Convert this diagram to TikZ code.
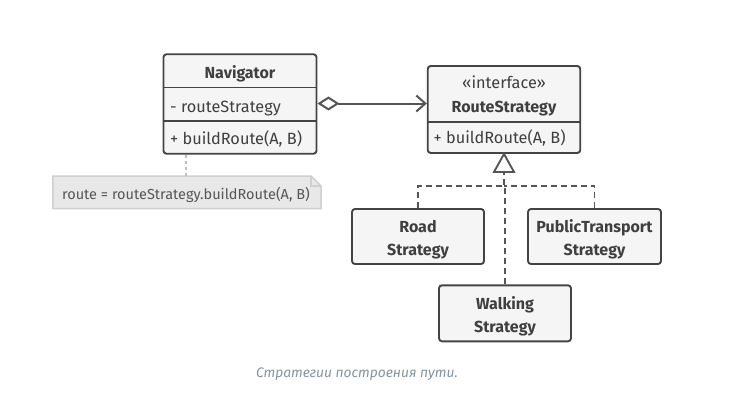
\documentclass[tikz,border=0pt]{standalone}
\usepackage{fontspec}
\setmainfont{Fira Sans}
\usetikzlibrary{arrows.meta,calc}
\definecolor{boxline}{HTML}{444444}
\definecolor{boxfill}{HTML}{F5F5F5}
\definecolor{txt}{HTML}{3F3F3F}
\definecolor{notefill}{HTML}{E8E8E8}
\definecolor{noteline}{HTML}{CFCFCF}
\definecolor{notetxt}{HTML}{555555}
\definecolor{captxt}{HTML}{8594A2}
\definecolor{linkcol}{HTML}{555555}
\tikzset{
  x=1pt,y=-1pt,
  umlbox/.style={draw=boxline,fill=boxfill,line width=1.9pt,rounded corners=3pt,inner sep=0pt},
  lbl/.style={text=txt,font=\fontsize{16.3}{18}\selectfont,inner sep=0pt},
  blbl/.style={lbl,font=\fontsize{16}{22.5}\selectfont\bfseries,align=center},
  divider/.style={draw=boxline,line width=1.9pt},
  agg/.style={draw=linkcol,line width=2pt,{Diamond[open,length=22pt,width=14pt,line width=2pt]}-{Straight Barb[length=9pt,width=16pt,line width=2pt]}},
  realize/.style={draw=linkcol,line width=1.9pt,dash pattern=on 6pt off 4pt},
  notestyle/.style={draw=noteline,line width=1.5pt},
  notelink/.style={draw=noteline!80!gray,line width=1.8pt,dash pattern=on 3pt off 3pt},
  notelbl/.style={text=notetxt,font=\fontsize{14.5}{17}\selectfont,inner sep=0pt},
}
\begin{document}
\begin{tikzpicture}
\useasboundingbox[fill=white] (0,0) rectangle (734,416);
% Navigator
\node[umlbox,minimum width=153pt,minimum height=99.5pt] (nav) at (240,104) {};
\draw[divider] (nav.west |- 0,87.5) -- (nav.east |- 0,87.5);
\draw[divider] (nav.west |- 0,120.7) -- (nav.east |- 0,120.7);
\node[blbl,anchor=base] (navname) at (240,78.3) {Navigator};
\node[lbl,anchor=base west] (navattr) at (170,112.7) {- routeStrategy};
\node[lbl,anchor=base west] (navop) at (170,144) {+ buildRoute(A, B)};
% RouteStrategy
\node[umlbox,minimum width=152.5pt,minimum height=87pt] (rs) at (504,109.5) {};
\draw[divider] (rs.west |- 0,121.7) -- (rs.east |- 0,121.7);
\node[lbl,anchor=base] (rsster) at (504,88.7) {«interface»};
\node[blbl,anchor=base] (rsname) at (504,112) {RouteStrategy};
\node[lbl,anchor=base west] (rsop) at (433.5,143.7) {+ buildRoute(A, B)};
% Concrete strategies
\node[umlbox,minimum width=132pt,minimum height=55pt] (road) at (418,236.5) {};
\node[blbl] (roadlbl) at ($(road.center)+(0,3)$) {Road\\Strategy};
\node[umlbox,minimum width=133pt,minimum height=55pt] (pt) at (594.5,236.5) {};
\node[blbl] (ptlbl) at ($(pt.center)+(0,3)$) {PublicTransport\\Strategy};
\node[umlbox,minimum width=132pt,minimum height=56pt] (walk) at (505,313.3) {};
\node[blbl] (walklbl) at ($(walk.center)+(0,3)$) {Walking\\Strategy};
% Aggregation
\draw[agg] (nav.east |- 0,103.5) -- (rs.west |- 0,103.5);
% Realization
\coordinate (junc) at (504,186);
\draw[realize] (road.north) |- (junc);
\draw[realize] (pt.north) |- (junc);
\draw[realize] (walk.north) -- (walk.north |- junc) -- (junc) -- (504,172);
\draw[draw=linkcol,fill=white,line width=1.9pt,line join=miter] (rs.south) -- (494,172) -- (514,172) -- cycle;
% Note
\node[minimum width=268pt,minimum height=32pt,inner sep=0pt] (note) at (187,192.3) {};
\fill[notefill] (note.north west) -- ($(note.north east)+(-10,0)$) -- ($(note.north east)+(0,10)$) -- (note.south east) -- (note.south west) -- cycle;
\draw[notestyle] (note.north west) -- ($(note.north east)+(-10,0)$) -- ($(note.north east)+(0,10)$) -- (note.south east) -- (note.south west) -- cycle;
\draw[notestyle] ($(note.north east)+(-10,0)$) -- ($(note.north east)+(-10,10)$) -- ($(note.north east)+(0,10)$);
\node[notelbl,anchor=base] (notelabel) at (186,199) {route = routeStrategy.buildRoute(A, B)};
\draw[notelink] (nav.south -| 186,0) -- (note.north -| 186,0);
% Caption
\node[text=captxt,font=\fontsize{13.8}{16}\selectfont\itshape,inner sep=0pt,anchor=base] (cap) at (357,377.5) {Стратегии построения пути.};
\end{tikzpicture}
\end{document}
